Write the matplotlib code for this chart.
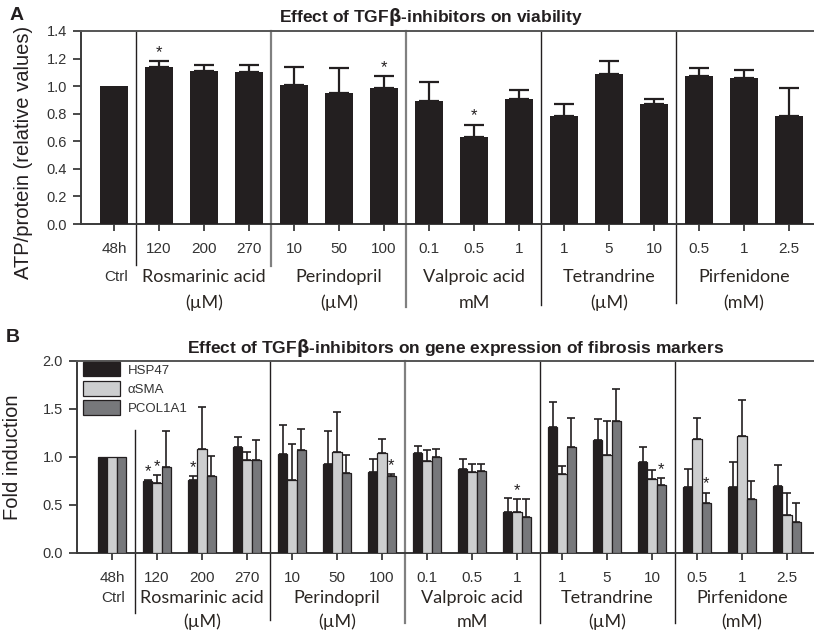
import numpy as np
import matplotlib
matplotlib.use('Agg')
import matplotlib.pyplot as plt

plt.rcParams['font.family'] = ['Liberation Sans', 'DejaVu Sans']

# tick labels and groups
tick_labels = ['48h', '120', '200', '270', '10', '50', '100', '0.1', '0.5', '1',
               '1', '5', '10', '0.5', '1', '2.5']
group_names = ['Rosmarinic acid', 'Perindopril', 'Valproic acid', 'Tetrandrine', 'Pirfenidone']
group_units = ['(µM)', '(µM)', 'mM', '(µM)', '(mM)']
group_start = [1, 4, 7, 10, 13]

# panel A: viability
viability = [1.00, 1.14, 1.11, 1.10, 1.01, 0.95, 0.99, 0.89, 0.63, 0.91, 0.78, 1.09, 0.87, 1.07, 1.06, 0.78]
viability_err = [0, 0.04, 0.04, 0.05, 0.13, 0.18, 0.08, 0.14, 0.09, 0.06, 0.09, 0.09, 0.04, 0.06, 0.06, 0.21]
viability_stars = [1, 6, 8]

# panel B: gene expression
hsp47 = [1.00, 0.75, 0.76, 1.10, 1.03, 0.93, 0.84, 1.04, 0.88, 0.43, 1.31, 1.18, 0.95, 0.69, 0.69, 0.70]
hsp47_err = [0, 0.01, 0.04, 0.11, 0.30, 0.34, 0.14, 0.07, 0.10, 0.14, 0.26, 0.22, 0.15, 0.19, 0.26, 0.22]
asma = [1.00, 0.73, 1.08, 0.97, 0.76, 1.05, 1.04, 0.96, 0.84, 0.43, 0.82, 1.02, 0.77, 1.19, 1.22, 0.40]
asma_err = [0, 0.08, 0.44, 0.08, 0.38, 0.42, 0.15, 0.11, 0.09, 0.13, 0.09, 0.35, 0.09, 0.22, 0.37, 0.23]
pcol = [1.00, 0.90, 0.80, 0.97, 1.07, 0.83, 0.80, 1.00, 0.85, 0.38, 1.10, 1.37, 0.71, 0.52, 0.56, 0.32]
pcol_err = [0, 0.37, 0.21, 0.21, 0.22, 0.19, 0.02, 0.08, 0.08, 0.18, 0.31, 0.34, 0.07, 0.11, 0.19, 0.20]
series_names = ['HSP47', 'αSMA', 'PCOL1A1']
# (bar index, series index)
gene_stars = [(1, 0), (1, 1), (2, 0), (6, 2), (9, 1), (12, 2), (13, 2)]

dark = '#231f20'
spine_c = '#3a3a3a'
label_c = '#333333'
drug_c = '#2b2622'
series_colors = [dark, '#cdcecf', '#77787b']

fig = plt.figure(figsize=(8.14, 6.31), dpi=100)
axA = fig.add_axes([81/814, 1 - 224/631, 1 - 81/814, 193/631])
axB = fig.add_axes([77/814, 1 - 553/631, 1 - 77/814, 192/631])

x = np.arange(len(tick_labels))


def style_axis(ax, yticks, ylabels):
    ax.spines['right'].set_visible(False)
    ax.spines['left'].set_color(spine_c)
    ax.spines['bottom'].set_color(spine_c)
    ax.spines['top'].set_color('#555555')
    for s in ['left', 'bottom', 'top']:
        ax.spines[s].set_linewidth(1.4)
    ax.set_yticks(yticks)
    ax.set_yticklabels(ylabels, fontsize=10.5, color=label_c)
    ax.set_xticks(x)
    ax.set_xticklabels(tick_labels, fontsize=11, color=label_c)
    ax.tick_params(axis='y', length=6, width=1.3, color=spine_c, pad=4)
    ax.tick_params(axis='x', length=5, width=1.3, color=spine_c, pad=8)


def separators(ax, tops, bottoms, colors):
    trans = ax.get_xaxis_transform()
    for g, top, bot, c in zip(group_start, tops, bottoms, colors):
        lw = 1.0 if c == dark else 1.6
        ax.plot([g - 0.5, g - 0.5], [bot, top], color=c, lw=lw,
                transform=trans, clip_on=False)


def group_text(ax, y1, y2, ctrl_x):
    trans = ax.get_xaxis_transform()
    ax.text(ctrl_x, y1, 'Ctrl', transform=trans, ha='center', va='center',
            fontsize=11, color=label_c)
    for g, name, unit in zip(group_start, group_names, group_units):
        ax.text(g + 1, y1, name, transform=trans, ha='center', va='center',
                fontsize=13, family='Lato', color=drug_c)
        ax.text(g + 1, y2, unit, transform=trans, ha='center', va='center',
                fontsize=13, family='Lato', color=drug_c)


# ---- panel A
axA.bar(x, viability, width=0.62, color=dark, zorder=3)
axA.errorbar(x[1:], viability[1:], yerr=[np.zeros(len(x) - 1), viability_err[1:]],
             fmt='none', ecolor=dark, elinewidth=1.6, capsize=7.5, capthick=1.6, zorder=2)
for i in viability_stars:
    axA.annotate('*', (x[i], viability[i] + viability_err[i]), xytext=(0, 1),
                 textcoords='offset points', ha='center', va='bottom', fontsize=12, color=dark)
axA.set_xlim(-0.733, 15.556)
axA.set_ylim(0, 1.4)
style_axis(axA, np.arange(0, 1.41, 0.2), ['%.1f' % v for v in np.arange(0, 1.41, 0.2)])
axA.set_ylabel('ATP/protein (relative values)', fontsize=14.5, color=dark)
axA.yaxis.set_label_coords(-0.065, 0.37)
separators(axA, [1, 1, 1, 1, 1], [-0.21, -0.22, -0.43, -0.42, -0.41],
           [dark, '#808080', '#808080', dark, dark])
group_text(axA, -0.275, -0.41, 0.05)

# ---- panel B
bw = 0.207
vals = [hsp47, asma, pcol]
errs = [hsp47_err, asma_err, pcol_err]
for k in range(3):
    xs = x + (k - 1) * bw
    axB.bar(xs, vals[k], width=bw, color=series_colors[k], edgecolor=dark,
            linewidth=0.9, zorder=3, label=series_names[k])
    axB.errorbar(xs[1:], vals[k][1:], yerr=[np.zeros(len(x) - 1), errs[k][1:]],
                 fmt='none', ecolor=dark, elinewidth=1.2, capsize=3, capthick=1.2, zorder=2)
for i, k in gene_stars:
    axB.annotate('*', (x[i] + (k - 1) * bw, vals[k][i] + errs[k][i]), xytext=(0, 1),
                 textcoords='offset points', ha='center', va='bottom', fontsize=12, color=dark)
axB.set_xlim(-0.778, 15.6)
axB.set_ylim(0, 2.0)
style_axis(axB, np.arange(0, 2.01, 0.5), ['%.1f' % v for v in np.arange(0, 2.01, 0.5)])
axB.set_ylabel('Fold induction', fontsize=14.5, color=dark)
axB.yaxis.set_label_coords(-0.075, 0.5)
separators(axB, [0.64, 1, 1, 1, 1], [-0.31, -0.35, -0.365, -0.365, -0.365],
           [dark, dark, '#808080', dark, dark])
group_text(axB, -0.234, -0.36, 0.02)
leg = axB.legend(loc='upper left', bbox_to_anchor=(83/814, 1 - 362/631), bbox_transform=fig.transFigure,
                 frameon=False, borderpad=0, borderaxespad=0, fontsize=9.5, handlelength=2.8,
                 handleheight=1.3, labelspacing=0.35, handletextpad=0.6)
for t in leg.get_texts():
    t.set_color(label_c)

# titles and panel letters
fig.text(431/814, 1 - 17/631, r'Effect of TGF$\mathbf{\beta}$-inhibitors on viability',
         ha='center', va='center', fontsize=12.5, fontweight='bold', color=dark)
fig.text(456/814, 1 - 348/631,
         r'Effect of TGF$\mathbf{\beta}$-inhibitors on gene expression of fibrosis markers',
         ha='center', va='center', fontsize=12.5, fontweight='bold', color=dark)
fig.text(17/814, 1 - 15/631, 'A', ha='center', va='center', fontsize=14, fontweight='bold', color=dark)
fig.text(13/814, 1 - 337/631, 'B', ha='center', va='center', fontsize=14, fontweight='bold', color=dark)

fig.savefig('out.png', dpi=100)
